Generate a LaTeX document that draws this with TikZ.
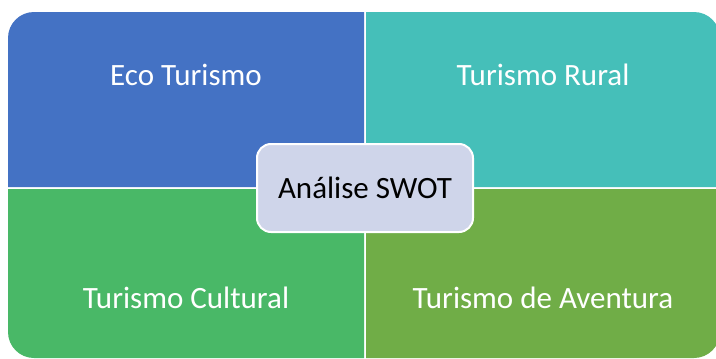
\documentclass[tikz,border=0pt]{standalone}
\usepackage{fontspec}
\setmainfont{Carlito}
\usepackage{tikz}
\usetikzlibrary{positioning}
\definecolor{ecoblue}{HTML}{4472C4}
\definecolor{ruralteal}{HTML}{45BFB9}
\definecolor{culturalgreen}{HTML}{49B867}
\definecolor{aventuragreen}{HTML}{70AD47}
\definecolor{swotfill}{HTML}{CFD5EA}
\tikzset{x=1pt, y=1pt,
	quadtext/.style={
		text=white,
		font=\fontsize{31}{37}\selectfont},
	swotbox/.style={
		draw=white,
		line width=2pt,
		fill=swotfill,
		rounded corners=14pt,
		minimum width=216pt,
		minimum height=88pt,
		font=\fontsize{31}{37}\selectfont}
}

\begin{document}
\begin{tikzpicture}
				\fill[white] (0,0) rectangle (716,-359);
				\useasboundingbox (0,0) rectangle (716,-359);
				\begin{scope}
				\clip (0,0) rectangle (716,-359);
				% quadrants
				\fill[ecoblue] (364,-187) -- (8,-187) -- (8,-38) arc[start angle=180, end angle=90, radius=26] -- (364,-12) -- cycle;
				\fill[ruralteal] (366,-187) -- (366,-12) -- (694,-12) arc[start angle=90, end angle=0, radius=26] -- (720,-187) -- cycle;
				\fill[culturalgreen] (364,-189) -- (8,-189) -- (8,-332) arc[start angle=180, end angle=270, radius=26] -- (364,-358) -- cycle;
				\fill[aventuragreen] (366,-189) -- (366,-358) -- (694,-358) arc[start angle=270, end angle=360, radius=26] -- (720,-189) -- cycle;
				\end{scope}
				\node[quadtext] (eco) at (186,-75) {Eco Turismo};
				\node[quadtext] (rural) at (543,-75) {Turismo Rural};
				\node[quadtext] (cultural) at (186,-298) {Turismo Cultural};
				\node[quadtext] (aventura) at (543,-298) {Turismo de Aventura};
				\node[swotbox] (swot) at (365,-188) {Análise SWOT};
			\end{tikzpicture}
\end{document}
